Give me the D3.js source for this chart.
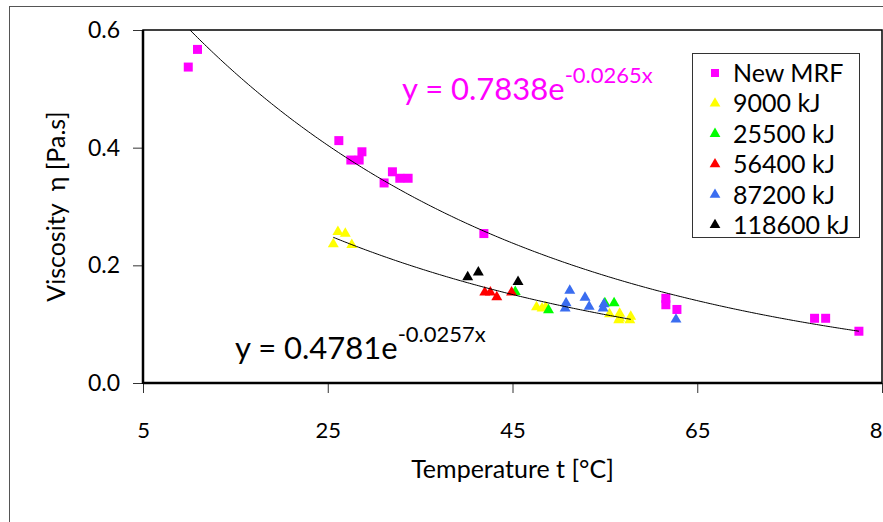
<!DOCTYPE html>
<html>
<head>
<meta charset="utf-8">
<script src="https://cdn.jsdelivr.net/npm/d3@7"></script>
<style>
  body { margin: 0; background: #fff; overflow: hidden; }
  text { font-family: Lato, 'Open Sans', sans-serif; }
</style>
</head>
<body>
<div id="chart"></div>
<script>
// tick values
const xTicks = [5, 25, 45, 65, 85];
const yTicks = [0, 0.2, 0.4, 0.6];

// series names, colours
const seriesNames = ['New MRF', '9000 kJ', '25500 kJ', '56400 kJ', '87200 kJ', '118600 kJ'];
const seriesColors = ['#ff00ff', '#ffff00', '#00ff00', '#ff0000', '#3a6df0', '#000000'];

// [temperature, viscosity] pairs
const newMRF = [
    [9.9, 0.537], [10.9, 0.567], [26.2, 0.412], [28.7, 0.393], [27.5, 0.379],
    [28.4, 0.379], [32.0, 0.359], [32.8, 0.348], [33.7, 0.348], [31.1, 0.340],
    [41.9, 0.254], [61.6, 0.144], [61.6, 0.133], [62.8, 0.125], [77.7, 0.110],
    [78.9, 0.110], [82.5, 0.088]
];
const kj9000 = [
    [26.1, 0.257], [26.9, 0.254], [25.6, 0.236], [27.6, 0.235], [47.6, 0.129],
    [48.2, 0.127], [48.6, 0.129], [55.5, 0.117], [56.6, 0.118], [56.6, 0.110],
    [57.8, 0.113], [57.7, 0.107], [56.5, 0.107]
];
const kj25500 = [[45.3, 0.155], [48.9, 0.124], [55.0, 0.136], [56.0, 0.136]];
const kj56400 = [[42.0, 0.154], [42.6, 0.154], [43.3, 0.146], [44.9, 0.154]];
const kj87200 = [
    [51.2, 0.157], [50.8, 0.136], [50.7, 0.127], [52.85, 0.145], [53.3, 0.130],
    [54.8, 0.127], [54.9, 0.134], [62.7, 0.108]
];
const kj118600 = [[40.15, 0.180], [41.3, 0.188], [45.6, 0.172]];

// exponential trend lines y = a * e^(b x)
const trendTop = { a: 0.7838, b: -0.0265, from: 9.9, to: 82.5 };
const trendBottom = { a: 0.4781, b: -0.0257, from: 25.6, to: 57.8 };

const allSeries = [newMRF, kj9000, kj25500, kj56400, kj87200, kj118600];

const W = 883, H = 522;
const pLeft = 143, pRight = 882, pTop = 30, pBottom = 383;

const svg = d3.select('#chart')
    .append('svg')
    .attr('width', W)
    .attr('height', H);

// outer chart border (runs off the picture on the right and bottom)
svg.append('rect')
    .attr('x', 9.5)
    .attr('y', 6.5)
    .attr('width', 1000)
    .attr('height', 600)
    .attr('fill', 'none')
    .attr('stroke', '#555')
    .attr('stroke-width', 1);

const x = d3.scaleLinear().domain([5, 85]).range([pLeft, pRight]);
const y = d3.scaleLinear().domain([0, 0.6]).range([pBottom, pTop]);

svg.append('clipPath')
    .attr('id', 'plot-clip')
    .append('rect')
    .attr('x', pLeft)
    .attr('y', pTop)
    .attr('width', pRight - pLeft)
    .attr('height', pBottom - pTop);

// x axis
const xAxis = svg.append('g')
    .attr('transform', 'translate(0,' + pBottom + ')')
    .call(d3.axisBottom(x).tickValues(xTicks).tickSize(10).tickPadding(29).tickFormat(d3.format('d')));
xAxis.select('.domain').remove();
xAxis.selectAll('line').attr('stroke', '#333');
xAxis.selectAll('text')
    .attr('font-size', '22px')
    .attr('fill', '#000');

// y axis
const yAxis = svg.append('g')
    .attr('transform', 'translate(' + pLeft + ',0)')
    .call(d3.axisLeft(y).tickValues(yTicks).tickSize(10).tickPadding(13).tickFormat(d3.format('.1f')));
yAxis.select('.domain').remove();
yAxis.selectAll('line').attr('stroke', '#333');
yAxis.selectAll('text')
    .attr('font-size', '23px')
    .attr('fill', '#000');

// plot frame
svg.append('rect')
    .attr('x', pLeft)
    .attr('y', pTop)
    .attr('width', pRight - pLeft)
    .attr('height', pBottom - pTop)
    .attr('fill', 'none')
    .attr('stroke', '#000')
    .attr('stroke-width', 1.5);

svg.append('line')
    .attr('x1', pLeft).attr('x2', pLeft)
    .attr('y1', pTop).attr('y2', pBottom + 1)
    .attr('stroke', '#000')
    .attr('stroke-width', 2.5);

svg.append('line')
    .attr('x1', pLeft).attr('x2', pRight)
    .attr('y1', pBottom).attr('y2', pBottom)
    .attr('stroke', '#000')
    .attr('stroke-width', 2.5);

// markers
const plot = svg.append('g').attr('clip-path', 'url(#plot-clip)');

allSeries.forEach(function(data, i) {
    const shape = i === 0 ? d3.symbolSquare : d3.symbolTriangle;
    const size = i === 0 ? 81 : 52;
    plot.selectAll('.s' + i)
        .data(data)
        .enter()
        .append('path')
        .attr('class', 's' + i)
        .attr('d', d3.symbol().type(shape).size(size))
        .attr('transform', (d) => 'translate(' + x(d[0]) + ',' + y(d[1]) + ')')
        .attr('fill', seriesColors[i]);
});

// trend lines
[trendTop, trendBottom].forEach(function(t) {
    const pts = d3.range(t.from, t.to, 0.25).concat([t.to]);
    plot.append('path')
        .datum(pts)
        .attr('fill', 'none')
        .attr('stroke', '#000')
        .attr('stroke-width', 1)
        .attr('d', d3.line()
            .x((d) => x(d))
            .y((d) => y(t.a * Math.exp(t.b * d))));
});

// equations
function equation(px, py, a, b, color) {
    const t = svg.append('text')
        .attr('x', px)
        .attr('y', py)
        .attr('fill', color)
        .attr('font-size', '31px');
    t.append('tspan').text('y = ' + a + 'e');
    t.append('tspan')
        .attr('dy', -17)
        .attr('font-size', '22px')
        .text(b + 'x');
}
equation(402, 100, trendTop.a.toFixed(4), trendTop.b, '#ff00ff');
equation(235, 359, trendBottom.a.toFixed(4), trendBottom.b, '#000');

// axis titles
svg.append('text')
    .attr('x', (pLeft + pRight) / 2)
    .attr('y', 478)
    .attr('text-anchor', 'middle')
    .attr('font-size', '25px')
    .text('Temperature t [°C]');

svg.append('text')
    .attr('transform', 'translate(65,' + ((pTop + pBottom) / 2) + ') rotate(-90)')
    .attr('text-anchor', 'middle')
    .attr('font-size', '25px')
    .attr('xml:space', 'preserve')
    .text('Viscosity  η [Pa.s]');

// legend
const legend = svg.append('g');

legend.append('rect')
    .attr('x', 692.5)
    .attr('y', 53.5)
    .attr('width', 167)
    .attr('height', 184)
    .attr('fill', '#fff')
    .attr('stroke', '#333')
    .attr('stroke-width', 1);

seriesNames.forEach(function(name, i) {
    const cy = 73 + i * 30.4;
    legend.append('path')
        .attr('d', d3.symbol().type(i === 0 ? d3.symbolSquare : d3.symbolTriangle).size(i === 0 ? 64 : 50))
        .attr('transform', 'translate(715,' + cy + ')')
        .attr('fill', seriesColors[i]);
    legend.append('text')
        .attr('x', 733)
        .attr('y', cy + 9)
        .attr('font-size', '25px')
        .text(name);
});
</script>
</body>
</html>
